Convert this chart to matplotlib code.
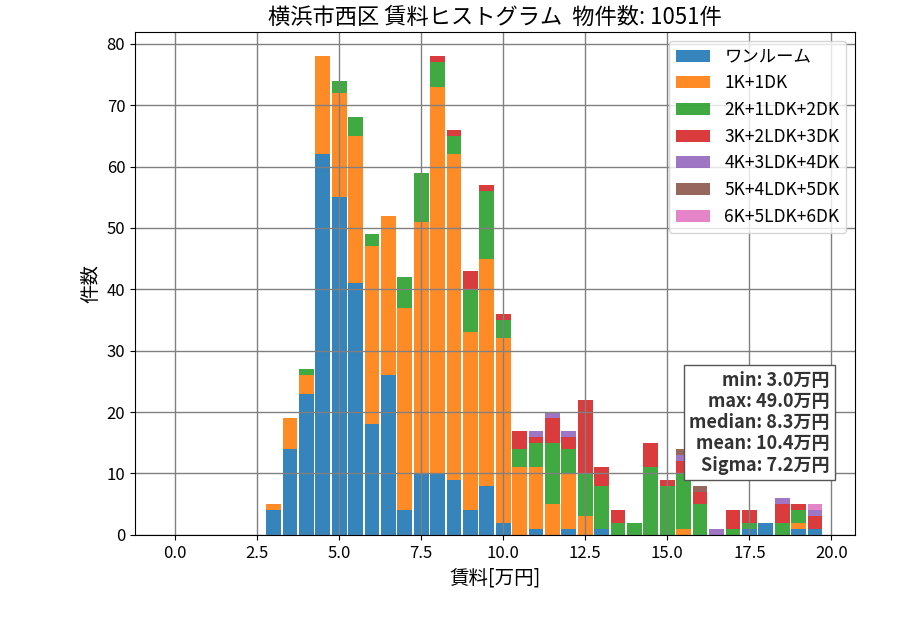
import numpy as np
import matplotlib
matplotlib.use("Agg")
import matplotlib.pyplot as plt

plt.rcParams['font.family'] = ['Noto Sans CJK JP', 'DejaVu Sans']

# bin left edges (万円), bins 0.0 .. 19.5 step 0.5
bin_left = np.arange(0, 20, 0.5)

room_types = ['ワンルーム', '1K+1DK', '2K+1LDK+2DK', '3K+2LDK+3DK',
              '4K+3LDK+4DK', '5K+4LDK+5DK', '6K+5LDK+6DK']

# counts per bin from 3.0 to 19.5 (bins below 3.0 are empty)
one_room = [4, 14, 23, 62, 55, 41, 18, 26, 4, 10, 10, 9, 4, 8, 2, 0, 1,
            0, 1, 0, 1, 0, 0, 0, 0, 0, 0, 0, 0, 1, 2, 0, 1, 1]
k1_dk1 = [1, 5, 3, 16, 17, 24, 29, 26, 33, 41, 63, 53, 29, 37, 30, 11, 10,
          5, 9, 3, 0, 0, 0, 0, 0, 1, 0, 0, 0, 0, 0, 0, 1, 0]
k2_ldk2 = [0, 0, 1, 0, 2, 3, 2, 0, 5, 8, 4, 3, 7, 11, 3, 3, 4,
           10, 4, 7, 7, 2, 2, 11, 8, 9, 5, 0, 1, 1, 0, 2, 2, 0]
k3_ldk3 = [0, 0, 0, 0, 0, 0, 0, 0, 0, 0, 1, 1, 3, 1, 1, 3, 1,
           4, 2, 12, 3, 2, 0, 4, 1, 2, 2, 0, 3, 2, 0, 3, 1, 2]
k4_ldk4 = [0, 0, 0, 0, 0, 0, 0, 0, 0, 0, 0, 0, 0, 0, 0, 0, 1,
           1, 1, 0, 0, 0, 0, 0, 0, 1, 0, 1, 0, 0, 0, 1, 0, 1]
k5_ldk5 = [0, 0, 0, 0, 0, 0, 0, 0, 0, 0, 0, 0, 0, 0, 0, 0, 0,
           0, 0, 0, 0, 0, 0, 0, 0, 1, 1, 0, 0, 0, 0, 0, 0, 0]
k6_ldk6 = [0, 0, 0, 0, 0, 0, 0, 0, 0, 0, 0, 0, 0, 0, 0, 0, 0,
           0, 0, 0, 0, 0, 0, 0, 0, 0, 0, 0, 0, 0, 0, 0, 0, 1]

series = [one_room, k1_dk1, k2_ldk2, k3_ldk3, k4_ldk4, k5_ldk5, k6_ldk6]
colors = ['tab:blue', 'tab:orange', 'tab:green', 'tab:red',
          'tab:purple', 'tab:brown', 'tab:pink']

stats_text = "min: 3.0万円\nmax: 49.0万円\nmedian: 8.3万円\nmean: 10.4万円\nSigma: 7.2万円"

fig = plt.figure(figsize=(9, 6.3), dpi=100)
ax = fig.add_subplot(111)
fig.subplots_adjust(left=0.15, right=0.95, top=0.949, bottom=0.151)

n_empty = len(bin_left) - len(one_room)
bottom = np.zeros(len(bin_left))
for name, vals, col in zip(room_types, series, colors):
    h = np.concatenate([np.zeros(n_empty), np.array(vals, dtype=float)])
    ax.bar(bin_left, h, width=0.45, bottom=bottom, color=col, alpha=0.9, label=name)
    bottom = bottom + h

ax.set_xlim(-1.22, 20.72)
ax.set_ylim(0, bottom.max() * 1.05)
ax.grid(color='gray', linewidth=1)
ax.tick_params(labelsize=12)
ax.set_title("横浜市西区 賃料ヒストグラム  物件数: 1051件", fontsize=16)
ax.set_xlabel("賃料[万円]", fontsize=14)
ax.set_ylabel("件数", fontsize=14)
ax.legend(loc='upper right', fontsize=12.5)

ax.text(0.965, 0.12, stats_text, transform=ax.transAxes, ha='right', va='bottom',
        fontsize=13, fontweight='bold', color='#333333', linespacing=1.15,
        bbox=dict(facecolor='white', edgecolor='#555555', boxstyle='square,pad=0.3'))

plt.savefig("out.png", dpi=100)
